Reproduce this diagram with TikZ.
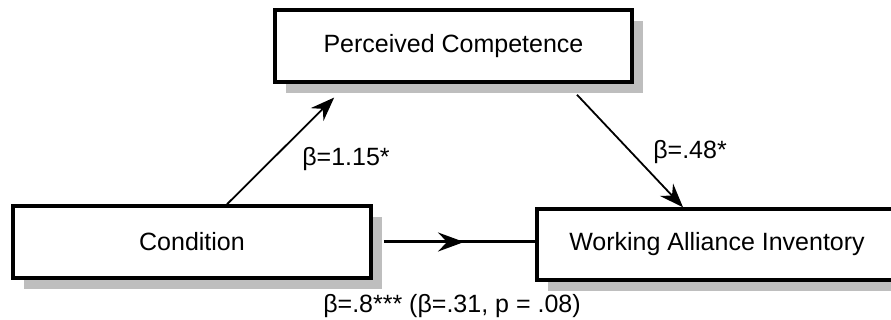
\documentclass[tikz,border=0pt]{standalone}
\usepackage{fontspec}
\setmainfont{Liberation Sans}
\usetikzlibrary{arrows.meta,calc,shadows,decorations.markings}
\definecolor{shadowgray}{RGB}{190,190,190}
\begin{document}
\begin{tikzpicture}[x=1pt,y=-1pt,
  box/.style={draw, line width=3.5pt, fill=white, inner sep=0pt,
    font=\fontsize{25}{30}\selectfont,
    general shadow={fill=shadowgray, shadow xshift=11pt, shadow yshift=-11pt}},
  lbl/.style={inner sep=0pt, font=\fontsize{25}{30}\selectfont},
  arr/.style={-{Stealth[length=24pt,width=18pt,inset=8pt]}, line width=1.8pt},
  midarr/.style={line width=3pt, postaction={decorate},
    decoration={markings, mark=at position 0.53 with {\arrow{Stealth[length=26pt,width=19pt,inset=9pt]}}}}]
\useasboundingbox (0,0) rectangle (891,320);
\clip (0,0) rectangle (891,320);
\node[box, minimum width=357pt, minimum height=72pt] (pc) at (453.5,46) {Perceived Competence};
\node[box, minimum width=358pt, minimum height=72pt] (cond) at (192,242) {Condition};
\node[box, minimum width=360pt, minimum height=71pt] (wai) at (717,244.5) {Working Alliance Inventory};
\coordinate (c1) at ($(cond.north)+(35,0)$);
\coordinate (p1) at ($(pc.south)+(-116.5,11)$);
\coordinate (p2) at ($(pc.south)+(123.5,11)$);
\coordinate (w1) at ($(wai.north)+(-34,0)$);
\coordinate (c2) at ($(cond.east)+(11,0)$);
\draw[arr, shorten >=4pt] (c1) -- (p1);
\draw[arr] (p2) -- (w1);
\draw[midarr] (c2) -- (c2 -| wai.west);
\node[lbl] (l1) at (346,159) {β=1.15*};
\node[lbl] (l2) at (690,152) {β=.48*};
\node[lbl] (l3) at (452,306) {β=.8*** (β=.31, p = .08)};
\end{tikzpicture}
\end{document}
